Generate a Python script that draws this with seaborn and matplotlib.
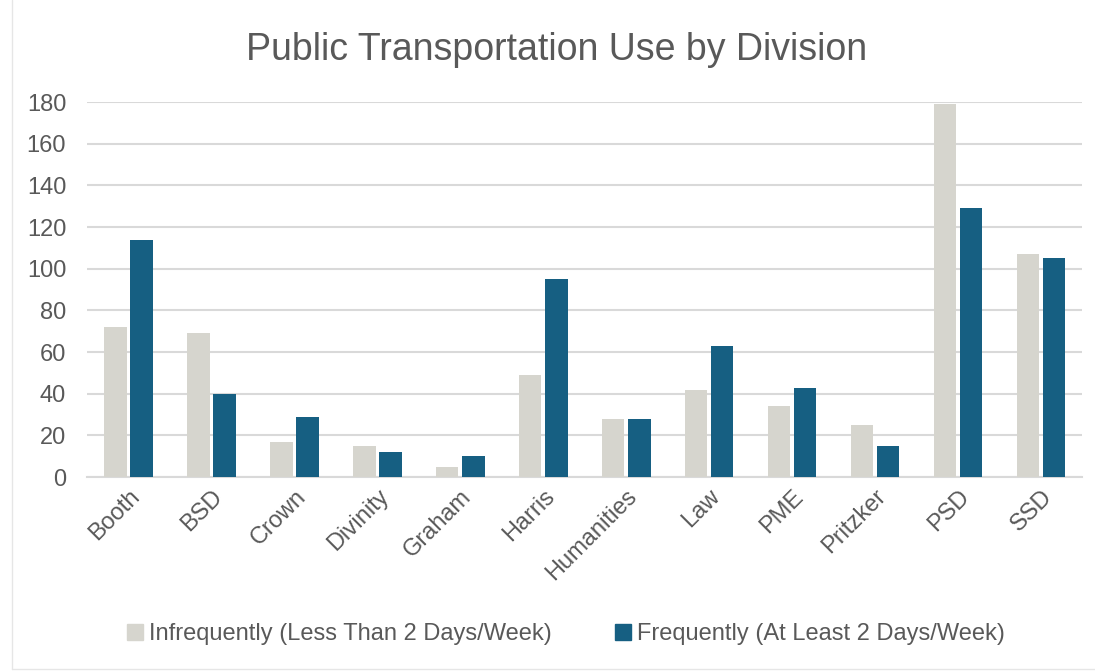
import pandas as pd
import numpy as np
import matplotlib
matplotlib.use('Agg')
import matplotlib.pyplot as plt
import seaborn as sns
from matplotlib.lines import Line2D

# data
divisions = ['Booth', 'BSD', 'Crown', 'Divinity', 'Graham', 'Harris',
             'Humanities', 'Law', 'PME', 'Pritzker', 'PSD', 'SSD']
infrequent = [72, 69, 17, 15, 5, 49, 28, 42, 34, 25, 179, 107]
frequent = [114, 40, 29, 12, 10, 95, 28, 63, 43, 15, 129, 105]
series_names = ['Infrequently (Less Than 2 Days/Week)',
                'Frequently (At Least 2 Days/Week)']
yticks = [0, 20, 40, 60, 80, 100, 120, 140, 160, 180]

df = pd.DataFrame({
    'Division': divisions * 2,
    'Count': infrequent + frequent,
    'Use': [series_names[0]] * len(divisions) + [series_names[1]] * len(divisions),
})

sns.set_style('white')
plt.rcParams['font.family'] = ['Liberation Sans', 'DejaVu Sans']
text_col = '#595959'
grid_col = '#D9D9D9'
colors = ['#D6D5CE', '#165F82']

fig = plt.figure(figsize=(10.95, 6.72), dpi=100)
ax = fig.add_axes([0.0795, 0.290, 0.909, 0.558])

sns.barplot(data=df, x='Division', y='Count', hue='Use', palette=colors,
            width=0.63, gap=0.14, saturation=1, linewidth=0, legend=False,
            ax=ax, zorder=3)

ax.set_ylim(0, 180)
ax.set_xlim(-0.5, len(divisions) - 0.5)
ax.set_yticks(yticks)
ax.yaxis.grid(True, color=grid_col, linewidth=1.5, zorder=0)
ax.set_axisbelow(True)
for s in ['top', 'right', 'left']:
    ax.spines[s].set_visible(False)
ax.spines['bottom'].set_color(grid_col)
ax.spines['bottom'].set_linewidth(1.5)
ax.tick_params(axis='both', length=0, colors=text_col, labelsize=17)
ax.tick_params(axis='y', pad=15)
ax.tick_params(axis='x', pad=6)
plt.setp(ax.get_xticklabels(), rotation=45, ha='right', rotation_mode='anchor')
ax.set_xlabel('')
ax.set_ylabel('')

fig.suptitle('Public Transportation Use by Division', x=0.508, y=0.952,
             fontsize=27, color=text_col)

handles = [Line2D([], [], marker='s', linestyle='', markersize=11,
                  markerfacecolor=c, markeredgecolor=c) for c in colors]
fig.legend(handles, series_names, loc='center', bbox_to_anchor=(0.516, 0.056),
           ncol=2, frameon=False, fontsize=17, labelcolor=text_col,
           handletextpad=0.2, columnspacing=2.6, handlelength=0.8)

# faint frame of the original chart box
fig.add_artist(Line2D([0.011, 0.011], [0.005, 1.0], color='#E6E6E6', lw=1))
fig.add_artist(Line2D([0.011, 1.0], [0.005, 0.005], color='#E6E6E6', lw=1))

fig.savefig('out.png', dpi=100)
